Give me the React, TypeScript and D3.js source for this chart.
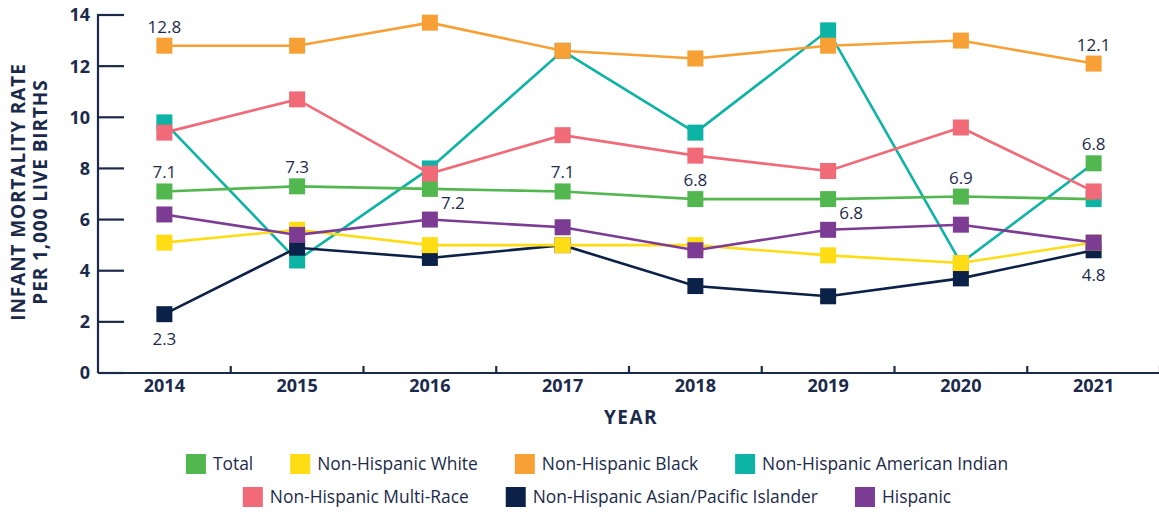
import React, { useEffect, useRef } from 'react';
import * as d3 from 'd3';

const years = ['2014', '2015', '2016', '2017', '2018', '2019', '2020', '2021'];
const yTicks = [0, 2, 4, 6, 8, 10, 12, 14];

const total = [7.1, 7.3, 7.2, 7.1, 6.8, 6.8, 6.9, 6.8];
const totalMarkers = [7.1, 7.3, 7.2, 7.1, 6.8, 6.8, 6.9, 8.2];
const nhWhite = [5.1, 5.6, 5.0, 5.0, 5.0, 4.6, 4.3, 5.1];
const nhBlack = [12.8, 12.8, 13.7, 12.6, 12.3, 12.8, 13.0, 12.1];
const nhAmInd = [9.8, 4.4, 8.0, 12.6, 9.4, 13.4, 4.3, 8.2];
const nhAmIndMarkers = [9.8, 4.4, 8.0, 12.6, 9.4, 13.4, 4.3, 6.8];
const nhMulti = [9.4, 10.7, 7.8, 9.3, 8.5, 7.9, 9.6, 7.1];
const nhAsian = [2.3, 4.9, 4.5, 5.0, 3.4, 3.0, 3.7, 4.8];
const hispanic = [6.2, 5.4, 6.0, 5.7, 4.8, 5.6, 5.8, 5.1];

const seriesNames = [
  'Total',
  'Non-Hispanic White',
  'Non-Hispanic Black',
  'Non-Hispanic American Indian',
  'Non-Hispanic Multi-Race',
  'Non-Hispanic Asian/Pacific Islander',
  'Hispanic',
];
const seriesColors = ['#52b74f', '#ffdc14', '#f7a035', '#0db3a5', '#f06a78', '#0b2148', '#7c3c94'];

// label annotations: series index, year index, placement
const dataLabels = [
  { s: 2, i: 0, text: '12.8', pos: 'above' },
  { s: 0, i: 0, text: '7.1', pos: 'above' },
  { s: 5, i: 0, text: '2.3', pos: 'below' },
  { s: 0, i: 1, text: '7.3', pos: 'above' },
  { s: 0, i: 2, text: '7.2', pos: 'belowRight' },
  { s: 0, i: 3, text: '7.1', pos: 'above' },
  { s: 0, i: 4, text: '6.8', pos: 'above' },
  { s: 0, i: 5, text: '6.8', pos: 'belowRight' },
  { s: 0, i: 6, text: '6.9', pos: 'above' },
  { s: 2, i: 7, text: '12.1', pos: 'above' },
  { s: 0, i: 7, text: '6.8', pos: 'above' },
  { s: 5, i: 7, text: '4.8', pos: 'below' },
];

const NAVY = '#1b2a4a';
const FONT = '"Open Sans", sans-serif';

export default function App() {
  const ref = useRef<SVGSVGElement | null>(null);

  useEffect(() => {
    document.body.style.margin = '0';
    const svg = d3.select(ref.current);
    svg.selectAll('*').remove();

    const lines = [total, nhWhite, nhBlack, nhAmInd, nhMulti, nhAsian, hispanic];
    const markers = [totalMarkers, nhWhite, nhBlack, nhAmIndMarkers, nhMulti, nhAsian, hispanic];

    const x = d3.scaleBand<string>().domain(years).range([98, 1160]);
    const y = d3.scaleLinear().domain([0, 14]).range([373, 15]);
    const cx = (i: number) => (x(years[i]) as number) + x.bandwidth() / 2;

    // y axis
    const yg = svg.append('g');
    yg.append('line').attr('x1', 98).attr('x2', 98).attr('y1', y(14) - 1).attr('y2', y(0))
      .attr('stroke', NAVY).attr('stroke-width', 2.2);
    yTicks.forEach((t) => {
      yg.append('line').attr('x1', 98).attr('x2', 124).attr('y1', y(t)).attr('y2', y(t))
        .attr('stroke', NAVY).attr('stroke-width', 2.2);
      yg.append('text').attr('x', 90).attr('y', y(t)).attr('dy', '0.36em')
        .attr('text-anchor', 'end').attr('font-family', FONT).attr('font-weight', 700)
        .attr('font-size', 18).attr('fill', NAVY).text(String(t));
    });

    // x axis
    const xg = svg.append('g');
    xg.append('line').attr('x1', 98).attr('x2', 1159).attr('y1', y(0)).attr('y2', y(0))
      .attr('stroke', NAVY).attr('stroke-width', 2.2);
    years.forEach((yr, i) => {
      const b = (x(yr) as number) + x.bandwidth();
      xg.append('line').attr('x1', b).attr('x2', b).attr('y1', y(0)).attr('y2', y(0) - 7)
        .attr('stroke', NAVY).attr('stroke-width', 2.2);
      xg.append('text').attr('x', cx(i)).attr('y', 392).attr('text-anchor', 'middle')
        .attr('font-family', FONT).attr('font-weight', 700).attr('font-size', 18)
        .attr('fill', NAVY).text(yr);
    });

    svg.append('text').attr('x', 631).attr('y', 424).attr('text-anchor', 'middle')
      .attr('font-family', FONT).attr('font-weight', 700).attr('font-size', 19)
      .attr('letter-spacing', 1.5).attr('fill', NAVY).text('YEAR');

    const yt = svg.append('text').attr('transform', 'translate(0,192) rotate(-90)')
      .attr('text-anchor', 'middle').attr('font-family', FONT).attr('font-weight', 700)
      .attr('font-size', 19).attr('letter-spacing', 0.9).attr('fill', NAVY);
    yt.append('tspan').attr('x', 0).attr('y', 25).text('INFANT MORTALITY RATE');
    yt.append('tspan').attr('x', 0).attr('y', 47).text('PER 1,000 LIVE BIRTHS');

    // series
    const order = [3, 5, 1, 0, 2, 4, 6];
    const line = d3.line<number>().x((_, i) => cx(i)).y((d) => y(d));
    const ms = 16;
    order.forEach((s) => {
      const g = svg.append('g');
      g.append('path').attr('d', line(lines[s]) as string).attr('fill', 'none')
        .attr('stroke', seriesColors[s]).attr('stroke-width', 2.6);
      g.selectAll('rect').data(markers[s]).enter().append('rect')
        .attr('x', (_, i) => cx(i) - ms / 2).attr('y', (d) => y(d) - ms / 2)
        .attr('width', ms).attr('height', ms).attr('fill', seriesColors[s]);
    });

    // data labels
    dataLabels.forEach((l) => {
      const px = cx(l.i);
      const py = y(markers[l.s][l.i]);
      let tx = px;
      let ty = py - 13;
      if (l.pos === 'below') ty = py + 31;
      if (l.pos === 'belowRight') { tx = px + 23; ty = py + 20; }
      svg.append('text').attr('x', tx).attr('y', ty).attr('text-anchor', 'middle')
        .attr('font-family', FONT).attr('font-size', 17).attr('fill', '#1d2b4d').text(l.text);
    });

    // legend
    const rows = [[0, 1, 2, 3], [4, 5, 6]];
    const rowY = [464, 497];
    const center = 597;
    rows.forEach((row, r) => {
      const lg = svg.append('g');
      let cur = 0;
      row.forEach((s, k) => {
        lg.append('rect').attr('x', cur).attr('y', rowY[r] - 10).attr('width', 20)
          .attr('height', 20).attr('fill', seriesColors[s]);
        const t = lg.append('text').attr('x', cur + 27).attr('y', rowY[r]).attr('dy', '0.35em')
          .attr('font-family', FONT).attr('font-size', 17.4).attr('fill', NAVY).text(seriesNames[s]);
        const w = (t.node() as SVGTextElement).getComputedTextLength();
        cur += 27 + w + (k < row.length - 1 ? 37 : 0);
      });
      lg.attr('transform', `translate(${center - cur / 2},0)`);
    });
  }, []);

  return <svg ref={ref} width={1159} height={512} style={{ display: 'block' }} />;
}
